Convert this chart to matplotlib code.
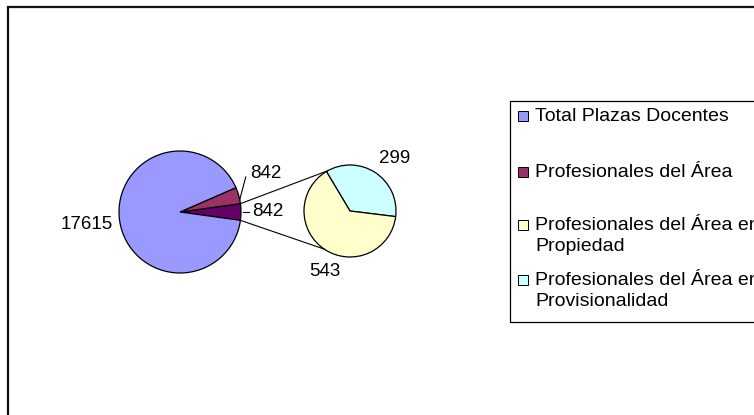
import numpy as np
import matplotlib
matplotlib.use("Agg")
import matplotlib.pyplot as plt
from matplotlib.patches import Rectangle

plt.rcParams['font.family'] = ['Liberation Sans', 'DejaVu Sans']

# data
labels = ['Total Plazas Docentes', 'Profesionales del Área',
          'Profesionales del Área en\nPropiedad',
          'Profesionales del Área en\nProvisionalidad']
total_plazas = 17615
area = 842
propiedad = 543
provisionalidad = 299
colors = ['#9999FF', '#993366', '#FFFFCC', '#CCFFFF']
other_color = '#660066'

W, H = 754, 415
fig = plt.figure(figsize=(W / 100, H / 100), dpi=100)
ax = fig.add_axes([0, 0, 1, 1])

# layout (pixel coords, y measured from top)
c1 = (180, H - 212)
r1 = 61
c2 = (350, H - 211)
r2 = 46

# main pie: "other" slice (= propiedad + provisionalidad) centred at 0 deg
other = propiedad + provisionalidad
main_vals = [other, area, total_plazas]
other_ang = 360 * other / sum(main_vals)
wedge_kw = dict(edgecolor='black', linewidth=0.9)
ax.pie(main_vals, colors=[other_color, colors[1], colors[0]],
       startangle=-other_ang / 2, center=c1, radius=r1,
       wedgeprops=wedge_kw, frame=True)

# secondary pie
sec_vals = [provisionalidad, propiedad]
ax.pie(sec_vals, colors=[colors[3], colors[2]], startangle=-7,
       center=c2, radius=r2, wedgeprops=wedge_kw, frame=True)
ax.set_xlim(0, W)
ax.set_ylim(0, H)
ax.set_aspect('equal')
ax.axis('off')


def pt(c, r, ang):
    a = np.deg2rad(ang)
    return c[0] + r * np.cos(a), c[1] + r * np.sin(a)


# connector lines between pies
for a1, a2 in [(other_ang / 2, 119), (-other_ang / 2, 236)]:
    x1, y1 = pt(c1, r1, a1)
    x2, y2 = pt(c2, r2, a2)
    ax.plot([x1, x2], [y1, y2], color='black', linewidth=0.8)

fs = 13.5
# data labels
x, y = pt(c1, r1 * 1.05, 187.5)
ax.text(x - 4, y - 4, str(total_plazas), fontsize=fs, ha='right', va='center')

area_mid = other_ang / 2 + 180 * area / sum(main_vals)
xa, ya = pt(c1, r1, area_mid - 4)
ax.plot([xa, xa + 6], [ya, H - 177], color='black', linewidth=0.8)
ax.text(xa + 10, H - 174, str(area), fontsize=fs, ha='left', va='center')

xo, yo = pt(c1, r1 * 1.03, 0)
ax.plot([xo, xo + 6], [yo, yo], color='black', linewidth=0.8)
ax.text(xo + 9, yo, str(other), fontsize=fs, ha='left', va='center')

x, y = pt(c2, r2 * 1.5, 50)
ax.text(x, y, str(provisionalidad), fontsize=fs, ha='center', va='center')
x, y = pt(c2, r2 * 1.42, 247)
ax.text(x, y, str(propiedad), fontsize=fs, ha='center', va='center')

# outer chart frame
fig.patches.append(Rectangle((8 / W, -0.1), 1.2, 1 - 7 / H + 0.1,
                             transform=fig.transFigure, fill=False,
                             edgecolor='#111111', linewidth=1.6))

# legend (box runs past the right edge, as in the original)
fig.patches.append(Rectangle((510 / W, 1 - 322 / H), 0.5, 221 / H,
                             transform=fig.transFigure, fill=False,
                             edgecolor='black', linewidth=0.9))
entry_y = [116, 172, 225, 280]
for lab, col, ey in zip(labels, colors, entry_y):
    fig.patches.append(Rectangle((518 / W, 1 - (ey + 5) / H), 10 / W, 10 / H,
                                 transform=fig.transFigure, facecolor=col,
                                 edgecolor='black', linewidth=0.7))
    fig.text(535 / W, 1 - (ey - 8) / H, lab, fontsize=14, ha='left',
             va='top', linespacing=1.3)

fig.savefig('out.png', dpi=100, facecolor='white')
